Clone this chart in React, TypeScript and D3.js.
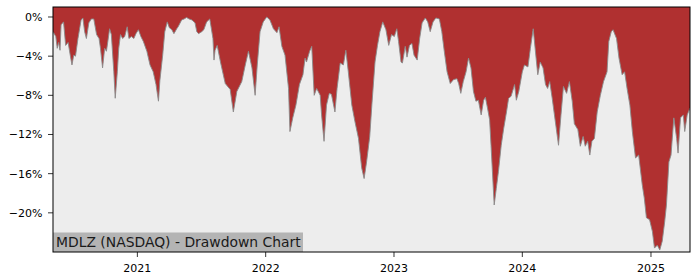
import React from "react";
import * as d3 from "d3";

const dates: string[] = [
  "2020-05-06","2020-05-14","2020-05-18","2020-05-22","2020-05-26","2020-05-29","2020-06-05","2020-06-11","2020-06-18","2020-06-24","2020-06-29",
  "2020-07-04","2020-07-09","2020-07-16","2020-07-25","2020-07-30","2020-08-04","2020-08-09","2020-08-16","2020-08-23","2020-08-30",
  "2020-09-07","2020-09-14","2020-09-18","2020-09-24","2020-09-30","2020-10-05","2020-10-09","2020-10-14","2020-10-19","2020-10-26","2020-10-30",
  "2020-11-05","2020-11-09","2020-11-14","2020-11-20","2020-11-26","2020-12-03","2020-12-08","2020-12-15","2020-12-22","2020-12-28",
  "2021-01-04","2021-01-11","2021-01-18","2021-01-28","2021-02-06","2021-02-15","2021-02-23","2021-03-02","2021-03-06","2021-03-14","2021-03-20","2021-03-27",
  "2021-04-02","2021-04-09","2021-04-15","2021-04-23","2021-04-27","2021-05-07","2021-05-14","2021-05-21","2021-05-28","2021-06-05","2021-06-14","2021-06-19","2021-06-24",
  "2021-07-03","2021-07-09","2021-07-17","2021-07-26","2021-08-04","2021-08-07","2021-08-10","2021-08-16","2021-08-26","2021-09-08","2021-09-22",
  "2021-10-01","2021-10-11","2021-10-25","2021-11-04","2021-11-13","2021-11-23","2021-12-02","2021-12-08","2021-12-16","2021-12-25",
  "2022-01-04","2022-01-13","2022-01-23","2022-02-02","2022-02-08","2022-02-16","2022-02-25","2022-03-07","2022-03-11","2022-03-19","2022-03-28",
  "2022-04-07","2022-04-17","2022-04-23","2022-04-27","2022-05-06","2022-05-12","2022-05-19","2022-05-26","2022-06-05","2022-06-09","2022-06-16","2022-06-23",
  "2022-07-01","2022-07-07","2022-07-17","2022-07-23","2022-08-01","2022-08-10","2022-08-17","2022-08-24","2022-09-03","2022-09-12","2022-09-22",
  "2022-10-01","2022-10-08","2022-10-15","2022-10-24","2022-10-30","2022-11-08","2022-11-15","2022-11-22","2022-11-30","2022-12-09","2022-12-17","2022-12-25",
  "2023-01-02","2023-01-09","2023-01-14","2023-01-21","2023-01-25","2023-02-02","2023-02-07","2023-02-14","2023-02-21","2023-02-27",
  "2023-03-08","2023-03-15","2023-03-22","2023-03-31","2023-04-07","2023-04-14","2023-04-22","2023-04-30","2023-05-10","2023-05-17","2023-05-24",
  "2023-06-01","2023-06-10","2023-06-19","2023-06-29","2023-07-04","2023-07-10","2023-07-17","2023-07-25","2023-08-01","2023-08-08","2023-08-15","2023-08-22","2023-08-29",
  "2023-09-06","2023-09-13","2023-09-18","2023-09-24","2023-09-30","2023-10-04","2023-10-08","2023-10-13","2023-10-19","2023-10-25",
  "2023-11-02","2023-11-09","2023-11-17","2023-11-23","2023-11-30","2023-12-10","2023-12-15","2023-12-22",
  "2024-01-01","2024-01-07","2024-01-17","2024-01-24","2024-02-01","2024-02-07","2024-02-14","2024-02-21","2024-02-29",
  "2024-03-07","2024-03-13","2024-03-19","2024-03-26","2024-04-04","2024-04-13","2024-04-20","2024-04-27","2024-05-06","2024-05-14","2024-05-22","2024-05-28",
  "2024-06-07","2024-06-14","2024-06-22","2024-06-28","2024-07-05","2024-07-11","2024-07-17","2024-07-24","2024-08-01","2024-08-10","2024-08-19","2024-08-29",
  "2024-09-03","2024-09-10","2024-09-15","2024-09-25","2024-10-02","2024-10-11","2024-10-18","2024-10-25","2024-11-02","2024-11-09","2024-11-18","2024-11-27",
  "2024-12-07","2024-12-13","2024-12-19","2024-12-28","2025-01-05","2025-01-11","2025-01-19","2025-01-26","2025-02-02","2025-02-09","2025-02-14","2025-02-21","2025-02-27",
  "2025-03-07","2025-03-15","2025-03-19","2025-03-26","2025-04-03","2025-04-07","2025-04-14","2025-04-22"
];

const drawdown: number[] = [
  -1.5,-2.0,-3.2,-2.6,-3.4,-0.8,-0.5,-2.9,-2.6,-3.9,-4.9,
  -3.9,-4.0,-2.2,-0.3,-0.1,-1.5,-2.2,-0.6,-0.2,-0.2,
  -1.8,-2.2,-3.2,-5.2,-3.2,-3.5,-2.5,-1.2,-1.8,-5.6,-8.3,
  -5.6,-3.2,-1.8,-2.2,-2.0,-1.0,-2.2,-2.0,-2.2,-1.7,
  -1.3,-2.0,-2.5,-3.5,-4.9,-5.6,-6.9,-8.6,-6.5,-3.9,-1.5,-0.5,
  -1.1,-1.3,-1.7,-1.2,-1.0,-0.3,-0.2,-0.05,-0.2,-0.3,-0.6,-1.5,-1.7,
  -1.5,-1.3,-0.5,-0.2,-2.2,-4.4,-3.4,-2.9,-4.7,-6.8,-7.4,
  -9.7,-7.6,-6.6,-4.9,-3.5,-5.2,-8.0,-4.9,-1.5,-0.5,
  0.0,-0.3,-1.2,-1.6,-1.0,-3.0,-3.9,-7.3,-11.7,-10.3,-9.0,
  -6.9,-5.9,-4.2,-4.6,-3.5,-3.0,-8.0,-7.3,-8.0,-10.0,-12.7,-9.0,
  -7.8,-7.9,-9.7,-7.3,-4.7,-4.9,-3.4,-5.6,-9.0,-10.7,-12.4,
  -15.4,-16.5,-14.8,-12.2,-9.0,-4.6,-2.9,-1.5,-0.5,-1.3,-2.9,-1.8,
  -2.0,-1.2,-2.5,-4.6,-4.7,-3.0,-4.1,-2.9,-2.7,-3.9,
  -4.4,-2.2,-0.6,-0.1,-0.5,-1.5,-0.5,-0.1,-0.2,-1.5,-3.5,
  -5.6,-6.8,-6.4,-6.3,-6.8,-7.8,-6.6,-5.6,-4.2,-5.2,-7.6,-8.6,-8.5,
  -10.0,-8.5,-8.2,-9.3,-10.5,-13.1,-15.8,-19.2,-17.5,-15.8,
  -13.1,-11.4,-9.7,-8.3,-8.1,-6.9,-8.5,-7.6,
  -5.6,-4.9,-5.1,-3.2,-1.2,-3.4,-5.9,-4.6,-5.2,
  -6.9,-7.3,-6.6,-8.3,-10.7,-13.1,-10.0,-7.1,-7.8,-6.6,-8.6,-10.9,
  -11.5,-13.2,-12.2,-13.2,-12.7,-14.1,-12.7,-12.4,-9.7,-8.0,-6.6,-5.6,
  -2.5,-1.5,-1.3,-2.2,-4.2,-5.9,-5.6,-7.3,-9.0,-11.7,-14.4,-14.1,
  -17.1,-18.5,-20.5,-20.7,-21.9,-23.6,-23.3,-23.8,-22.9,-20.9,-19.2,-14.8,-14.1,
  -10.3,-12.4,-13.9,-10.3,-10.0,-11.7,-10.0,-9.3
];

const yTicks: number[] = [0, -4, -8, -12, -16, -20];
const xTickYears: number[] = [2021, 2022, 2023, 2024, 2025];
const title = "MDLZ (NASDAQ) - Drawdown Chart";

export default function App() {
  const W = 700, H = 280;
  const left = 53, right = 690, top = 7, bottom = 252;
  const parse = d3.timeParse("%Y-%m-%d");
  const data = dates.map((d, i) => ({ date: parse(d) as Date, v: drawdown[i] }));
  const x = d3.scaleTime()
    .domain(d3.extent(data, (d) => d.date) as [Date, Date])
    .range([left, right]);
  const y = d3.scaleLinear().domain([-24, 1.02]).range([bottom, top]);

  const area = d3.area<{ date: Date; v: number }>()
    .x((d) => x(d.date))
    .y0(y(1.02))
    .y1((d) => y(d.v));
  const line = d3.line<{ date: Date; v: number }>()
    .x((d) => x(d.date))
    .y((d) => y(d.v));

  const fmt = (v: number) => (v < 0 ? "\u2212" + Math.abs(v) : String(v)) + "%";
  const font = "DejaVu Sans, sans-serif";

  return (
    <svg width={W} height={H} style={{ position: "absolute", left: 0, top: 0, display: "block" }}>
      <rect x={0} y={0} width={W} height={H} fill="#ffffff" />
      <defs>
        <clipPath id="plotclip">
          <rect x={left} y={top} width={right - left} height={bottom - top} />
        </clipPath>
      </defs>
      <rect x={left} y={top} width={right - left} height={bottom - top} fill="#ededed" />
      <g clipPath="url(#plotclip)">
        <path d={area(data) || ""} fill="#b03030" />
        <path d={line(data) || ""} fill="none" stroke="#8a8a8a" strokeWidth={0.9} />
      </g>
      <rect x={left} y={bottom - 19.5} width={250} height={19.5} fill="#b4b4b4" />
      <text x={left + 3} y={bottom - 5} fontFamily={font} fontSize={13.9} fill="#1a1a1a">{title}</text>
      <rect x={left} y={top} width={right - left} height={bottom - top} fill="none" stroke="#000" strokeWidth={1} />
      {yTicks.map((t) => (
        <g key={t}>
          <line x1={left - 5} x2={left} y1={y(t)} y2={y(t)} stroke="#000" strokeWidth={0.8} />
          <text x={left - 10.5} y={y(t)} dy="0.35em" textAnchor="end" fontFamily={font} fontSize={11} fill="#000">{fmt(t)}</text>
        </g>
      ))}
      {xTickYears.map((yr) => {
        const xx = x(new Date(yr, 0, 1));
        return (
          <g key={yr}>
            <line x1={xx} x2={xx} y1={bottom} y2={bottom + 5} stroke="#000" strokeWidth={0.8} />
            <text x={xx} y={bottom + 19.5} textAnchor="middle" fontFamily={font} fontSize={11} fill="#000">{yr}</text>
          </g>
        );
      })}
    </svg>
  );
}
